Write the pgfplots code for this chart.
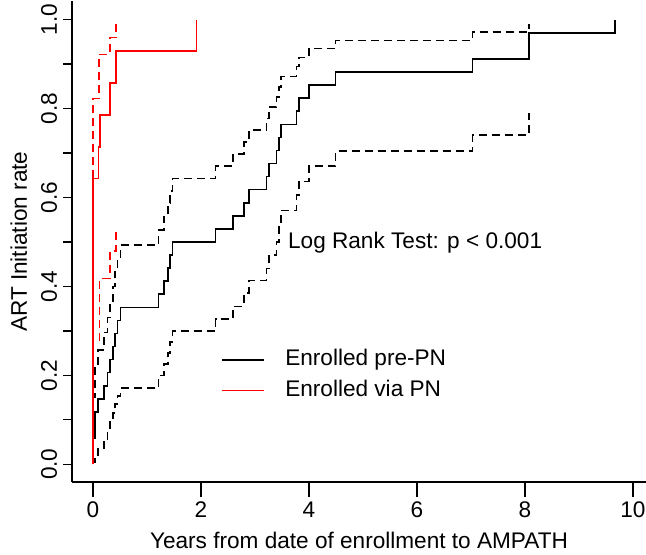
\documentclass[border=0pt]{standalone}
\usepackage{pgfplots}
\pgfplotsset{compat=1.18}
\usepackage{fontspec}
\setmainfont{Liberation Sans}
\begin{document}
\begin{tikzpicture}[font=\fontsize{22.6bp}{27bp}\selectfont]
\begin{axis}[
  at={(0,0)}, anchor=south west,
  scale only axis, width=574bp, height=480.5bp,
  xmin=-0.389, xmax=10.241, ymin=-0.04, ymax=1.041,
  axis x line*=bottom, axis y line*=left,
  axis line style={line width=1.4bp, -},
  tick align=outside, major tick length=15bp,
  tick style={line width=1.4bp, black},
  y tick style={dash pattern=on 9bp off 6bp, dash phase=9bp},
  xtick={0,2,4,6,8,10}, xticklabels={0,2,4,6,8,10},
  ytick={0,0.1,0.2,0.3,0.4,0.5,0.6,0.7,0.8,0.9,1},
  yticklabels={0.0,,0.2,,0.4,,0.6,,0.8,,1.0},
  yticklabel style={rotate=90, anchor=base, inner sep=0pt},
  xticklabel style={anchor=base, inner sep=0pt, yshift=-20bp},
  xlabel={Years from date of enrollment to AMPATH},
  ylabel={ART Initiation rate},
  xlabel style={at={(axis description cs:0.5,0)}, anchor=base, yshift=-66bp, inner sep=0pt},
  ylabel style={at={(axis description cs:-0.0784,0.5)}, anchor=base, rotate=0, inner sep=0pt},
  legend style={at={(axis cs:2.383,0.200)}, anchor=west, draw=none, fill=none,
    inner sep=0pt, outer sep=0pt, row sep=9.7bp,
    nodes={inner sep=0pt, text height=16bp, text depth=4.5bp},
    /tikz/every odd column/.append style={column sep=20bp}},
  legend image code/.code={\draw[#1, line width=1.6bp, solid] (0bp,0bp) -- (42bp,0bp);},
  legend cell align=left,
]
% Enrolled pre-PN (black)
\addplot[black, line width=1.6bp, const plot] coordinates {
(0,0) (0,0.0588) (0.04,0.1176) (0.09,0.1471) (0.20,0.1765) (0.265,0.2059) (0.31,0.2353)
(0.37,0.2647) (0.41,0.2941) (0.45,0.3235) (0.51,0.3529) (1.21,0.3824) (1.31,0.4118)
(1.39,0.4412) (1.43,0.4706) (1.47,0.5) (2.27,0.5294) (2.59,0.5588) (2.80,0.5882)
(2.89,0.6176) (3.21,0.6471) (3.26,0.6765) (3.40,0.7059) (3.44,0.7353) (3.48,0.7647)
(3.77,0.7941) (3.82,0.8235) (4.00,0.8529) (4.49,0.8824) (7.03,0.9118) (8.07,0.9706)
(9.67,1.0)};
\addlegendentry{Enrolled pre-PN}
% Enrolled via PN (red)
\addplot[red, line width=1.6bp, const plot] coordinates {
(0,0) (0,0.643) (0.10,0.714) (0.135,0.786) (0.315,0.857) (0.43,0.929) (1.92,1.0)};
\addlegendentry{Enrolled via PN}
% black confidence limits
\addplot[black, line width=1.6bp, const plot, dash pattern=on 8bp off 5bp, forget plot] coordinates {
(0,0) (0,0.15) (0.04,0.216) (0.09,0.257) (0.20,0.296) (0.265,0.33) (0.31,0.366)
(0.37,0.40) (0.41,0.434) (0.45,0.464) (0.51,0.493) (1.21,0.527) (1.31,0.557)
(1.39,0.587) (1.43,0.615) (1.47,0.643) (2.27,0.671) (2.59,0.698) (2.80,0.725)
(2.89,0.752) (3.21,0.778) (3.26,0.803) (3.40,0.826) (3.44,0.848) (3.48,0.872)
(3.77,0.895) (3.82,0.915) (4.00,0.935) (4.49,0.953) (7.03,0.9725) (8.07,0.99)};
\addplot[black, line width=1.6bp, const plot, dash pattern=on 8bp off 5bp, forget plot] coordinates {
(0,0) (0,0.005) (0.04,0.021) (0.09,0.035) (0.20,0.05) (0.265,0.077) (0.31,0.095)
(0.37,0.115) (0.41,0.135) (0.45,0.153) (0.51,0.171) (1.21,0.2) (1.31,0.225)
(1.39,0.25) (1.43,0.275) (1.47,0.30) (2.27,0.327) (2.59,0.355) (2.80,0.385)
(2.89,0.413) (3.21,0.44) (3.26,0.471) (3.40,0.50) (3.44,0.535) (3.48,0.571)
(3.77,0.605) (3.82,0.636) (4.00,0.671) (4.49,0.705) (7.03,0.741) (8.07,0.791)};
% red confidence limits
\addplot[red, line width=1.6bp, const plot, dash pattern=on 8bp off 5bp, forget plot] coordinates {
(0,0) (0,0.823) (0.11,0.922) (0.31,0.96) (0.43,0.99)};
\addplot[red, line width=1.6bp, const plot, dash pattern=on 8bp off 5bp, forget plot] coordinates {
(0,0) (0,0.28) (0.12,0.418) (0.31,0.48) (0.43,0.53)};
\node[anchor=base west, inner sep=0pt] at (axis cs:3.61,0.486) {Log Rank Test: p < 0.001};
\end{axis}
\pgfresetboundingbox
\path[use as bounding box] (-72bp,-73bp) rectangle (574bp,482bp);
\end{tikzpicture}
\end{document}
